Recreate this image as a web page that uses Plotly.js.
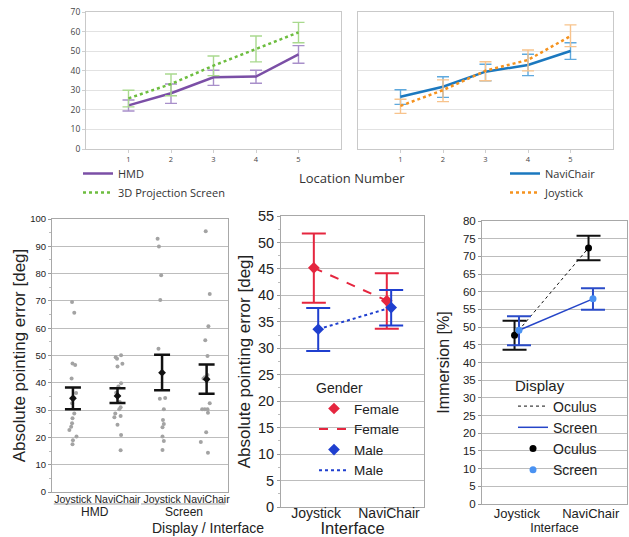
<!DOCTYPE html>
<html>
<head>
<meta charset="utf-8">
<script src="https://cdn.plot.ly/plotly-3.0.1.min.js"></script>
<style>html,body{margin:0;padding:0;background:#fff;}#chart{width:629px;height:537px;}</style>
</head>
<body>
<div id="chart"></div>
<script>
// ---------- Top panels: Mean absolute pointing error by location ----------
const locations = [1, 2, 3, 4, 5];
const hmdMean = [22.3, 28.5, 36.6, 37.0, 48.4];
const hmdHi   = [25.0, 33.2, 40.2, 40.2, 52.8];
const hmdLo   = [19.4, 23.3, 32.5, 33.6, 43.8];
const projMean = [25.9, 33.2, 42.6, 51.0, 59.6];
const projHi   = [30.0, 38.3, 47.5, 57.7, 64.7];
const projLo   = [21.5, 27.2, 37.5, 44.5, 54.3];
const naviMean = [26.7, 31.8, 39.5, 42.9, 50.1];
const naviHi   = [30.3, 36.9, 43.3, 48.4, 54.3];
const naviLo   = [22.8, 26.4, 34.9, 37.5, 45.8];
const joyMean  = [22.0, 30.1, 40.0, 45.5, 57.7];
const joyHi    = [25.4, 35.3, 44.6, 50.6, 63.4];
const joyLo    = [18.2, 24.2, 34.9, 39.9, 52.3];

// ---------- Bottom-left: Display / Interface ----------
const interfaceLabels = ["Joystick", "NaviChair", "Joystick", "NaviChair"];
const displayGroups = ["HMD", "Screen"];
const hmdJoyPts  = [69.6, 65.7, 47.1, 46.5, 41.6, 36.3, 34.6, 32.5, 28.8, 27.0, 25.2, 23.9, 22.7, 20.3, 19.0, 17.5];
const hmdJoyJit  = [-0.02, 0.03, -0.01, 0.05, -0.03, 0.07, 0.02, -0.02, 0.03, -0.01, -0.02, -0.04, -0.08, 0.08, 0.0, -0.01];
const hmdNavPts  = [50.1, 49.4, 48.8, 47.0, 46.0, 39.8, 38.6, 36.4, 33.0, 31.0, 30.3, 28.8, 27.8, 27.4, 24.6, 20.9, 15.3];
const hmdNavJit  = [0.08, -0.04, -0.01, 0.11, 0.0, 0.08, 0.02, -0.03, 0.05, 0.07, 0.04, -0.05, 0.07, -0.07, 0.0, 0.08, 0.07];
const scrJoyPts  = [92.8, 89.9, 79.4, 70.3, 52.5, 34.2, 34.4, 30.3, 26.4, 24.9, 23.7, 20.3, 18.7, 15.4];
const scrJoyJit  = [-0.10, -0.07, -0.02, -0.04, -0.08, -0.05, 0.07, 0.04, 0.02, 0.04, 0.01, 0.01, 0.04, 0.01];
const scrNavPts  = [95.5, 72.5, 60.7, 55.6, 49.8, 42.9, 42.0, 41.6, 32.5, 30.3, 30.3, 30.3, 29.0, 21.9, 18.3, 14.4];
const scrNavJit  = [-0.02, 0.07, 0.04, -0.03, 0.02, 0.02, -0.04, -0.07, 0.07, -0.10, -0.04, 0.02, 0.03, -0.01, -0.13, 0.03];
const cellMean = [34.3, 35.2, 43.7, 41.3];
const cellHi   = [38.3, 38.0, 50.3, 46.7];
const cellLo   = [30.3, 32.6, 37.3, 36.0];

// ---------- Bottom-middle: Gender x Interface ----------
const interfaces = ["Joystick", "NaviChair"];
const femaleMean = [45.2, 39.0];
const femaleHi   = [51.7, 44.2];
const femaleLo   = [38.6, 33.7];
const maleMean   = [33.6, 37.7];
const maleHi     = [37.6, 41.0];
const maleLo     = [29.5, 34.3];

// ---------- Bottom-right: Immersion ----------
const oculusMean = [47.7, 72.4];
const oculusHi   = [51.8, 75.8];
const oculusLo   = [43.6, 68.9];
const screenMean = [49.1, 58.0];
const screenHi   = [53.1, 61.0];
const screenLo   = [44.9, 54.9];

// ---------- helpers ----------
const plus  = (m, h) => m.map((v, i) => +(h[i] - v).toFixed(2));
const minus = (m, l) => m.map((v, i) => +(v - l[i]).toFixed(2));
const idx = a => a.map((_, i) => i);
const DODGE = 0.03;

const traces = [];

// Top-left
traces.push({
  x: locations, y: hmdMean, xaxis: 'x', yaxis: 'y', mode: 'lines', name: 'HMD', legend: 'legend',
  line: {color: '#7b4fa6', width: 2.5},
  error_y: {type: 'data', array: plus(hmdMean, hmdHi), arrayminus: minus(hmdMean, hmdLo), color: '#a88fca', thickness: 1.4, width: 6}
});
traces.push({
  x: locations, y: projMean, xaxis: 'x', yaxis: 'y', mode: 'lines', name: '3D Projection Screen', legend: 'legend',
  line: {color: '#6dbd3f', width: 2.5, dash: 'dot'},
  error_y: {type: 'data', array: plus(projMean, projHi), arrayminus: minus(projMean, projLo), color: '#a9d98e', thickness: 1.4, width: 6}
});
// Top-right
traces.push({
  x: locations, y: naviMean, xaxis: 'x2', yaxis: 'y2', mode: 'lines', name: 'NaviChair', legend: 'legend2',
  line: {color: '#1b78bf', width: 2.5},
  error_y: {type: 'data', array: plus(naviMean, naviHi), arrayminus: minus(naviMean, naviLo), color: '#5fa9dd', thickness: 1.4, width: 6}
});
traces.push({
  x: locations, y: joyMean, xaxis: 'x2', yaxis: 'y2', mode: 'lines', name: 'Joystick', legend: 'legend2',
  line: {color: '#f5921e', width: 2.5, dash: 'dot'},
  error_y: {type: 'data', array: plus(joyMean, joyHi), arrayminus: minus(joyMean, joyLo), color: '#f8c38c', thickness: 1.4, width: 6}
});

// Bottom-left scatter points
const groupsPts = [hmdJoyPts, hmdNavPts, scrJoyPts, scrNavPts];
const groupsJit = [hmdJoyJit, hmdNavJit, scrJoyJit, scrNavJit];
groupsPts.forEach((pts, g) => {
  traces.push({
    x: pts.map((_, i) => g + groupsJit[g][i]), y: pts, xaxis: 'x3', yaxis: 'y3', mode: 'markers', showlegend: false,
    marker: {color: '#a3a3a3', size: 4}
  });
});
traces.push({
  x: idx(cellMean), y: cellMean, xaxis: 'x3', yaxis: 'y3', mode: 'markers', showlegend: false,
  marker: {color: '#111', size: 6, symbol: 'diamond'},
  error_y: {type: 'data', array: plus(cellMean, cellHi), arrayminus: minus(cellMean, cellLo), color: '#111', thickness: 2.5, width: 8}
});

// Bottom-middle
traces.push({
  x: idx(femaleMean).map(v => v - DODGE), y: femaleMean, xaxis: 'x4', yaxis: 'y4', mode: 'markers', name: 'Female', legend: 'legend3',
  marker: {color: '#e5263f', size: 9, symbol: 'diamond'},
  error_y: {type: 'data', array: plus(femaleMean, femaleHi), arrayminus: minus(femaleMean, femaleLo), color: '#e5263f', thickness: 2, width: 12}
});
traces.push({
  x: idx(femaleMean).map(v => v - DODGE), y: femaleMean, xaxis: 'x4', yaxis: 'y4', mode: 'lines', name: 'Female', legend: 'legend3',
  line: {color: '#e5263f', width: 2, dash: 'dash'}
});
traces.push({
  x: idx(maleMean).map(v => v + DODGE), y: maleMean, xaxis: 'x4', yaxis: 'y4', mode: 'markers', name: 'Male', legend: 'legend3',
  marker: {color: '#1f3fcf', size: 9, symbol: 'diamond'},
  error_y: {type: 'data', array: plus(maleMean, maleHi), arrayminus: minus(maleMean, maleLo), color: '#1f3fcf', thickness: 2, width: 12}
});
traces.push({
  x: idx(maleMean).map(v => v + DODGE), y: maleMean, xaxis: 'x4', yaxis: 'y4', mode: 'lines', name: 'Male', legend: 'legend3',
  line: {color: '#1f3fcf', width: 2, dash: 'dot'}
});

// Bottom-right
traces.push({
  x: idx(oculusMean).map(v => v - DODGE), y: oculusMean, xaxis: 'x5', yaxis: 'y5', mode: 'lines', name: 'Oculus', legend: 'legend4',
  line: {color: '#111', width: 1, dash: 'dot'}
});
traces.push({
  x: idx(screenMean).map(v => v + DODGE), y: screenMean, xaxis: 'x5', yaxis: 'y5', mode: 'lines', name: 'Screen', legend: 'legend4',
  line: {color: '#2545c8', width: 1.5}
});
traces.push({
  x: idx(oculusMean).map(v => v - DODGE), y: oculusMean, xaxis: 'x5', yaxis: 'y5', mode: 'markers', name: 'Oculus', legend: 'legend4',
  marker: {color: '#000', size: 7},
  error_y: {type: 'data', array: plus(oculusMean, oculusHi), arrayminus: minus(oculusMean, oculusLo), color: '#111', thickness: 2, width: 12}
});
traces.push({
  x: idx(screenMean).map(v => v + DODGE), y: screenMean, xaxis: 'x5', yaxis: 'y5', mode: 'markers', name: 'Screen', legend: 'legend4',
  marker: {color: '#4a92f2', size: 7},
  error_y: {type: 'data', array: plus(screenMean, screenHi), arrayminus: minus(screenMean, screenLo), color: '#2a4bc8', thickness: 2, width: 12}
});

const W = 629, H = 537;
const px = v => v / W, py = v => 1 - v / H;
const SANS = 'Liberation Sans, Arial, sans-serif';
const TOPF = 'Open Sans, Noto Sans, sans-serif';

const topAxisX = {range: [0, 6], tickvals: locations, ticks: 'outside', ticklen: 3, tickcolor: '#cfcfcf', showgrid: false, zeroline: false,
  showline: true, linecolor: '#c9c9c9', mirror: true, tickfont: {family: TOPF, size: 7.5, color: '#444'}, fixedrange: true};
const topAxisY = {range: [0, 70], dtick: 10, ticks: 'outside', ticklen: 3, tickcolor: '#cfcfcf', gridcolor: '#e2e2e2', zeroline: false,
  showline: true, linecolor: '#c9c9c9', mirror: true, tickfont: {family: TOPF, size: 8.5, color: '#444'}, fixedrange: true};

const layout = {
  width: W, height: H,
  margin: {l: 0, r: 0, t: 0, b: 0},
  paper_bgcolor: '#fff', plot_bgcolor: '#fff',
  font: {family: SANS, color: '#222'},
  xaxis: Object.assign({}, topAxisX, {domain: [px(86), px(341)], anchor: 'y'}),
  yaxis: Object.assign({}, topAxisY, {domain: [py(149), py(12)], anchor: 'x'}),
  xaxis2: Object.assign({}, topAxisX, {domain: [px(358), px(613)], anchor: 'y2'}),
  yaxis2: Object.assign({}, topAxisY, {domain: [py(149), py(12)], anchor: 'x2', showticklabels: false, ticks: ''}),
  xaxis3: {domain: [px(52), px(228)], anchor: 'y3', range: [-0.47, 3.48], tickvals: idx(interfaceLabels), ticktext: interfaceLabels,
    ticks: '', showgrid: false, zeroline: false, showline: true, linecolor: '#a8a8a8', mirror: true, ticklabelstandoff: -3,
    tickfont: {size: 10.5, color: '#222'}, fixedrange: true},
  yaxis3: {domain: [py(492), py(219)], anchor: 'x3', range: [0, 100], dtick: 10, gridcolor: '#bdbdbd', zeroline: false,
    showline: true, linecolor: '#a8a8a8', mirror: true, ticks: 'outside', ticklen: 3, tickcolor: '#999',
    minor: {dtick: 5, ticks: 'outside', ticklen: 2, tickcolor: '#bbb', showgrid: false},
    tickfont: {size: 9.5, color: '#222'}, title: {text: 'Absolute pointing error [deg]', font: {size: 17, color: '#222'}, standoff: 0}, fixedrange: true},
  xaxis4: {domain: [px(281), px(424)], anchor: 'y4', range: [-0.48, 1.48], tickvals: idx(interfaces), ticktext: interfaces,
    ticks: '', showgrid: false, zeroline: false, showline: true, linecolor: '#a8a8a8', mirror: true, ticklabelstandoff: -7,
    tickfont: {size: 14, color: '#222'}, title: {text: 'Interface', font: {size: 16.5, color: '#222'}, standoff: 0}, fixedrange: true},
  yaxis4: {domain: [py(507), py(216)], anchor: 'x4', range: [0, 55], dtick: 5, gridcolor: '#bdbdbd', zeroline: false,
    showline: true, linecolor: '#a8a8a8', mirror: true, ticks: 'outside', ticklen: 3, tickcolor: '#999',
    minor: {dtick: 2.5, ticks: 'outside', ticklen: 2, tickcolor: '#bbb', showgrid: false},
    tickfont: {size: 14.5, color: '#222'}, title: {text: 'Absolute pointing error [deg]', font: {size: 17, color: '#222'}, standoff: 3}, fixedrange: true},
  xaxis5: {domain: [px(482), px(627)], anchor: 'y5', range: [-0.47, 1.49], tickvals: idx(interfaces), ticktext: interfaces,
    ticks: '', showgrid: false, zeroline: false, showline: true, linecolor: '#a8a8a8', mirror: true, ticklabelstandoff: -3,
    tickfont: {size: 13, color: '#222'}, title: {text: 'Interface', font: {size: 12.5, color: '#222'}, standoff: 1}, fixedrange: true},
  yaxis5: {domain: [py(504), py(221)], anchor: 'x5', range: [0, 80], dtick: 5, gridcolor: '#bdbdbd', zeroline: false,
    showline: true, linecolor: '#a8a8a8', mirror: true, ticks: 'outside', ticklen: 3, tickcolor: '#999',
    tickfont: {size: 11.5, color: '#222'}, title: {text: 'Immersion [%]', font: {size: 16, color: '#222'}, standoff: 9}, fixedrange: true},
  legend: {x: px(78), y: py(159), xanchor: 'left', yanchor: 'top', bgcolor: 'rgba(0,0,0,0)',
    font: {family: TOPF, size: 11, color: '#333'}, tracegroupgap: 0},
  legend2: {x: px(505), y: py(159), xanchor: 'left', yanchor: 'top', bgcolor: 'rgba(0,0,0,0)',
    font: {family: TOPF, size: 11, color: '#333'}, tracegroupgap: 0},
  legend3: {x: px(314), y: py(375), xanchor: 'left', yanchor: 'top', bgcolor: 'rgba(0,0,0,0)',
    title: {text: 'Gender', font: {size: 14, color: '#222'}}, font: {size: 13.5, color: '#222'}, tracegroupgap: 0},
  legend4: {x: px(513), y: py(371), xanchor: 'left', yanchor: 'top', bgcolor: 'rgba(0,0,0,0)',
    title: {text: 'Display', font: {size: 15, color: '#222'}}, font: {size: 14, color: '#222'}, tracegroupgap: 0},
  annotations: [
    {text: 'Location Number', xref: 'paper', yref: 'paper', x: px(352), y: py(178), yanchor: 'middle', showarrow: false,
      font: {family: TOPF, size: 13, color: '#333'}},
    {text: displayGroups[0], xref: 'x3', yref: 'paper', x: 0.5, y: py(512), yanchor: 'middle', showarrow: false, font: {size: 12, color: '#222'}},
    {text: displayGroups[1], xref: 'x3', yref: 'paper', x: 2.5, y: py(512), yanchor: 'middle', showarrow: false, font: {size: 12, color: '#222'}},
    {text: 'Display / Interface', xref: 'paper', yref: 'paper', x: px(150), y: py(528), yanchor: 'middle', showarrow: false, font: {size: 14, color: '#222'}}
  ],
  shapes: [
    {type: 'line', xref: 'x3', yref: 'paper', x0: -0.43, x1: 1.48, y0: py(504), y1: py(504), line: {color: '#999', width: 1}},
    {type: 'line', xref: 'x3', yref: 'paper', x0: 1.53, x1: 3.42, y0: py(504), y1: py(504), line: {color: '#999', width: 1}}
  ]
};

Plotly.newPlot('chart', traces, layout, {displayModeBar: false, staticPlot: true});
</script>
</body>
</html>
